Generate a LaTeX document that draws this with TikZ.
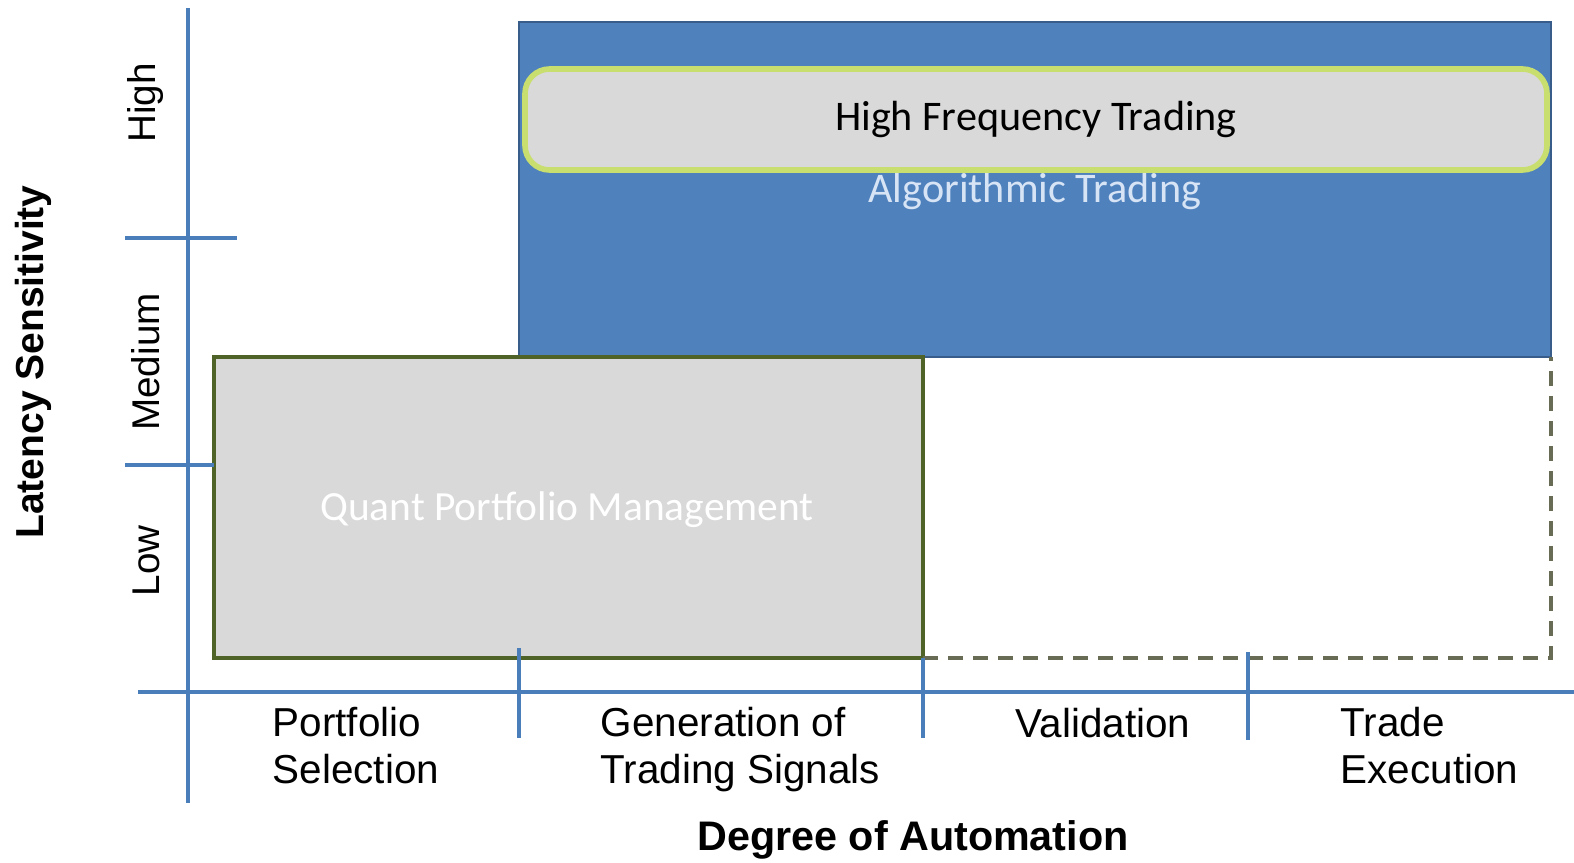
\documentclass[tikz,border=0pt]{standalone}
\usepackage{fontspec}
\setmainfont{Liberation Sans}
\newfontfamily\calib{Carlito}
\usepackage{tikz}
\definecolor{axisblue}{RGB}{74,126,187}
\definecolor{algoblue}{RGB}{79,129,189}
\definecolor{algoedge}{RGB}{56,93,138}
\definecolor{algotext}{RGB}{215,228,245}
\definecolor{boxgray}{RGB}{217,217,217}
\definecolor{olive}{RGB}{79,98,40}
\definecolor{hftedge}{RGB}{200,222,110}
\definecolor{dashgray}{RGB}{105,108,85}

\begin{document}
\begin{tikzpicture}[font=\fontsize{11.5}{13.1}\selectfont]
\useasboundingbox (0,0) rectangle (15.74,8.62);
% algorithmic trading block
\fill[algoblue,draw=algoedge,line width=0.6pt] (5.19,5.05) rectangle (15.51,8.40);
\node[algotext,font=\calib\fontsize{12}{14}\selectfont] (algo) at (10.35,6.71) {Algorithmic Trading};
\filldraw[fill=boxgray,draw=hftedge,line width=1.6pt,rounded corners=7pt] (5.25,6.92) rectangle (15.47,7.93);
\node[font=\calib\fontsize{12}{14}\selectfont] (hft) at (10.36,7.43) {High Frequency Trading};
% quant portfolio block
\filldraw[fill=boxgray,draw=olive,line width=1pt] (2.14,2.04) rectangle (9.23,5.05);
\node[white,font=\calib\fontsize{11.8}{14}\selectfont] (qpm) at (5.67,3.52) {Quant Portfolio Management};
\draw[dashgray,line width=1pt,dash pattern=on 1.5mm off 1mm] (9.23,2.04) -- (15.51,2.04) -- (15.51,5.05);
% axes
\draw[axisblue,line width=1.2pt] (1.88,8.54) -- (1.88,0.59);
\draw[axisblue,line width=1.2pt] (1.38,1.70) -- (15.74,1.70);
\draw[axisblue,line width=1.2pt] (1.25,6.24) -- (2.37,6.24);
\draw[axisblue,line width=1.2pt] (1.25,3.97) -- (2.14,3.97);
\draw[axisblue,line width=1.2pt] (5.19,2.14) -- (5.19,1.24);
\draw[axisblue,line width=1.2pt] (9.23,2.04) -- (9.23,1.24);
\draw[axisblue,line width=1.2pt] (12.48,2.10) -- (12.48,1.22);
% axis labels
\node[rotate=90,font=\fontsize{11}{13}\selectfont] (high) at (1.46,7.59) {High};
\node[rotate=90,font=\fontsize{11}{13}\selectfont] (medium) at (1.46,5.00) {Medium};
\node[rotate=90,font=\fontsize{11}{13}\selectfont] (low) at (1.46,3.01) {Low};
\node[rotate=90,font=\bfseries\fontsize{11.1}{13}\selectfont] (latency) at (0.33,5.00) {Latency Sensitivity};
\node[anchor=base west,align=left,inner sep=0pt] (portsel) at (2.72,0.79) {Portfolio\\Selection};
\node[anchor=base west,align=left,inner sep=0pt] (gensig) at (6.00,0.79) {Generation of\\Trading Signals};
\node[anchor=base west,align=left,inner sep=0pt] (valid) at (10.15,1.25) {Validation};
\node[anchor=base west,align=left,inner sep=0pt] (trade) at (13.40,0.79) {Trade\\Execution};
\node[anchor=base,inner sep=0pt,font=\bfseries\fontsize{11.75}{13}\selectfont] (degree) at (9.13,0.12) {Degree of Automation};
\end{tikzpicture}
\end{document}
